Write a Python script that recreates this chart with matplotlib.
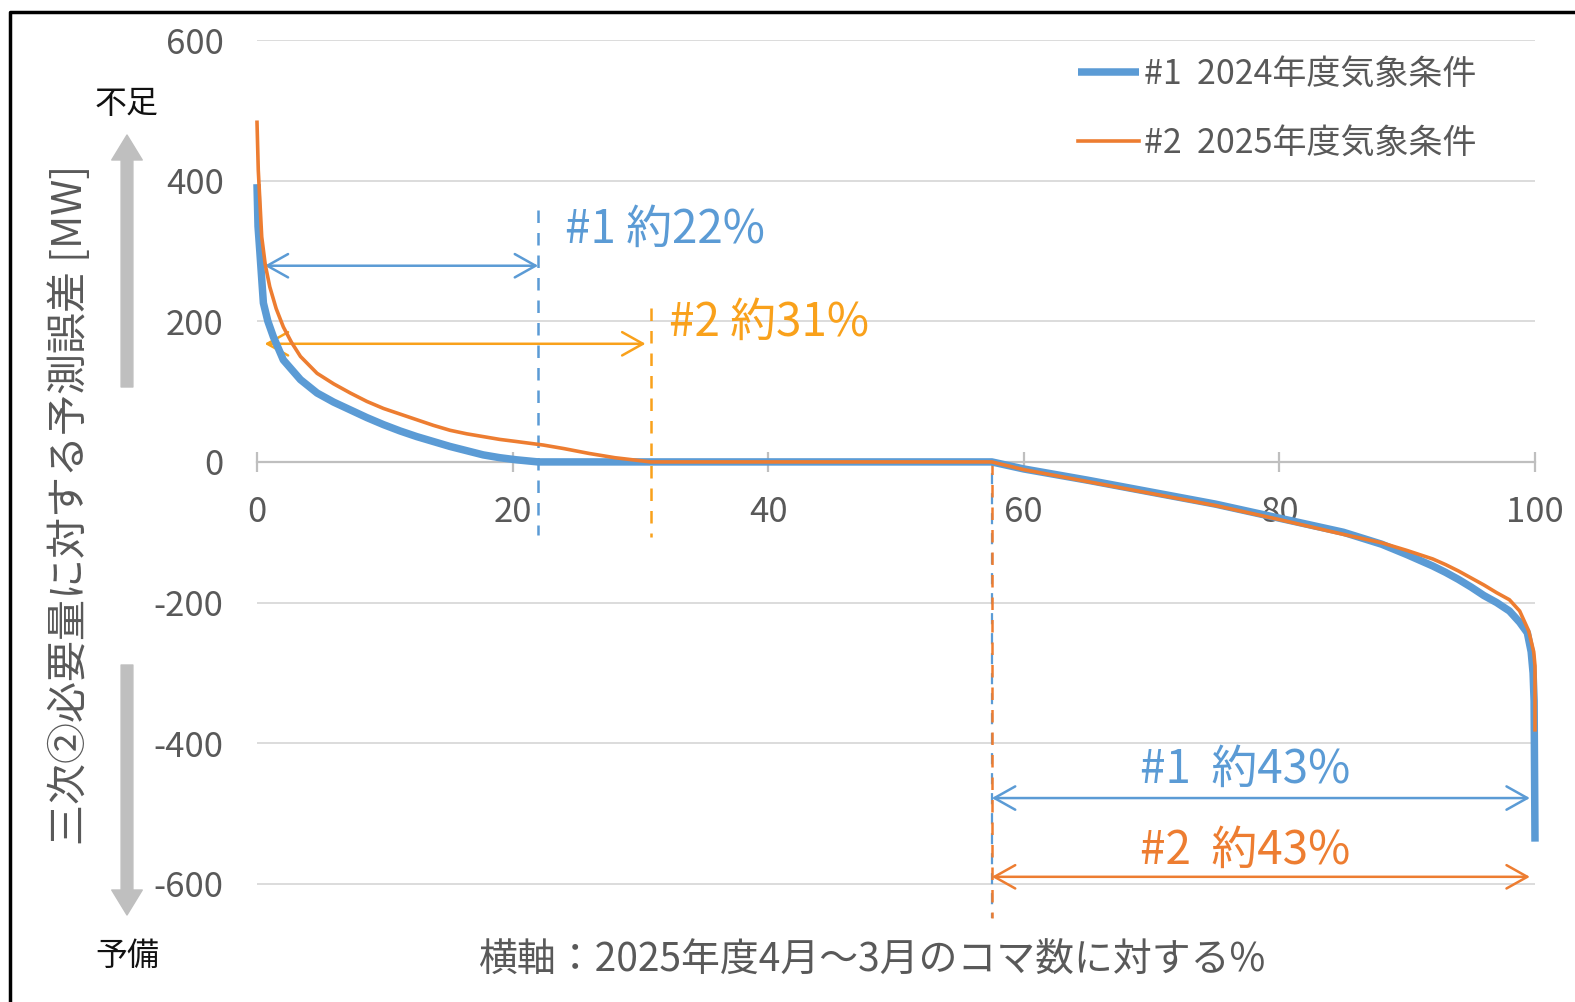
import matplotlib
matplotlib.use("Agg")
import matplotlib.pyplot as plt
from matplotlib.lines import Line2D
from matplotlib.patches import FancyArrowPatch

plt.rcParams['font.family'] = ['Noto Sans CJK JP', 'DejaVu Sans']
plt.rcParams['axes.unicode_minus'] = False

# ---------------- data ----------------
x1 = [0, 0.08, 0.23, 0.5, 0.85, 1.28, 2.06, 3.4, 4.7, 6.0, 7.3, 8.6, 9.9, 11.2, 12.5, 13.8,
      15.1, 16.4, 17.7, 19.0, 20.3, 22.0, 57.5, 60, 65, 70, 75, 80, 85, 88, 90, 92, 93, 94,
      95, 96, 97, 98, 98.8, 99.4, 99.7, 99.85, 99.93, 100]
y1 = [395, 335, 297, 226, 200, 178, 145, 117, 98, 85, 74, 63, 53, 44, 36, 29,
      22, 16, 10, 6, 3, 0, 0, -10, -26, -43, -60, -80, -100, -117, -132, -148, -157, -167,
      -178, -190, -200, -212, -228, -243, -270, -300, -340, -540]

x2 = [0, 0.1, 0.37, 0.65, 1.0, 1.5, 2.06, 2.7, 3.4, 4.7, 6.0, 7.3, 8.6, 9.9, 11.2, 12.5, 13.8,
      15.1, 16.4, 17.7, 19.0, 20.3, 22.4, 24.0, 26.0, 28.0, 30.8, 57.5, 60, 65, 70, 75, 80,
      85, 88, 90, 92, 93, 94, 95, 96, 97, 98, 98.8, 99.5, 99.9, 100, 100]
y2 = [483, 415, 320, 280, 249, 218, 192, 170, 150, 126, 111, 98, 86, 76, 68, 60, 52,
      45, 40, 36, 32, 29, 24, 19, 12, 6, 0, 0, -11, -28, -45, -62, -82,
      -103, -115, -126, -138, -146, -155, -165, -175, -186, -196, -212, -240, -270, -290, -381]

series_labels = ['#1  2024年度気象条件', '#2  2025年度気象条件']
xticks = [0, 20, 40, 60, 80, 100]
yticks = [-600, -400, -200, 0, 200, 400, 600]

# annotation values
cut1 = 22.0      # #1 zero crossing (%)
cut2 = 30.8      # #2 zero crossing (%)
neg_start = 57.5 # start of negative region (%)
ann_texts = ['#1 約22%', '#2 約31%', '#1  約43%', '#2  約43%']

BLUE = '#5B9BD5'
ORANGE = '#ED7D31'
YORANGE = '#F9A11B'
GRAY = '#595959'

W, H = 1575, 1002
fig = plt.figure(figsize=(W / 100, H / 100), dpi=100)
ax = fig.add_axes([257 / W, 1 - 919 / H, 1278 / W, (919 - 40) / H])

ax.set_xlim(0, 100)
ax.set_ylim(-650, 600)

# grid
ax.set_yticks(yticks)
ax.yaxis.grid(True, color='#D9D9D9', lw=1.3, zorder=0)
ax.xaxis.grid(False)
ax.set_axisbelow(True)

for s in ['left', 'right', 'top']:
    ax.spines[s].set_visible(False)
ax.spines['bottom'].set_position(('data', 0))
ax.spines['bottom'].set_color('#BFBFBF')
ax.spines['bottom'].set_linewidth(1.6)
ax.spines['bottom'].set_zorder(1)

ax.set_xticks(xticks)
ax.tick_params(axis='x', direction='inout', length=15, width=1.6, color='#BFBFBF',
               labelsize=25, labelcolor=GRAY, pad=16)
ax.tick_params(axis='y', length=0, labelsize=25, labelcolor=GRAY, pad=24)

# curves
ax.plot(x1, y1, color=BLUE, lw=5.4, zorder=4, clip_on=False, solid_capstyle='butt',
        label=series_labels[0])
ax.plot(x2, y2, color=ORANGE, lw=2.6, zorder=5, clip_on=False, label=series_labels[1])

# dashed verticals
ax.plot([cut1, cut1], [358, -104], color=BLUE, lw=1.8, ls=(0, (5, 4)), zorder=3)
ax.plot([cut2, cut2], [219, -107], color=YORANGE, lw=1.8, ls=(0, (5, 4)), zorder=3)
ax.plot([neg_start, neg_start], [0, -648], color=BLUE, lw=1.6, ls=(4, (5, 4)), zorder=3,
        clip_on=False)
ax.plot([neg_start, neg_start], [0, -648], color=ORANGE, lw=1.8, ls=(0, (5, 4)), zorder=3,
        clip_on=False)

def darrow(x0, x1_, y, color):
    ax.annotate('', xy=(x1_, y), xytext=(x0, y),
                arrowprops=dict(arrowstyle='<->,head_length=0.75,head_width=0.42',
                                color=color, lw=1.8, shrinkA=0, shrinkB=0,
                                mutation_scale=20), zorder=2)

darrow(0.6, cut1, 279, BLUE)
darrow(0.6, 30.4, 168, YORANGE)
darrow(neg_start, 99.6, -478, BLUE)
darrow(neg_start, 99.6, -590, ORANGE)

ax.text(24.1, 330, ann_texts[0], color=BLUE, fontsize=33, ha='left', va='center')
ax.text(32.2, 198, ann_texts[1], color=YORANGE, fontsize=33, ha='left', va='center')
ax.text(77.3, -437, ann_texts[2], color=BLUE, fontsize=33, ha='center', va='center')
ax.text(77.3, -552, ann_texts[3], color=ORANGE, fontsize=33, ha='center', va='center')

# legend
leg = ax.legend(loc='upper right', bbox_to_anchor=(1477 / W, 1 - 57 / H),
                bbox_transform=fig.transFigure, frameon=False, fontsize=24.5,
                handlelength=1.8, handletextpad=0.15, labelspacing=1.0, borderpad=0,
                borderaxespad=0)
for t in leg.get_texts():
    t.set_color(GRAY)

# axis labels
fig.text(70 / W, 1 - 505 / H, '三次②必要量に対する予測誤差 [MW]', rotation=90,
         ha='center', va='center', fontsize=29.5, color=GRAY)
fig.text(873 / W, 1 - 961 / H, '横軸：2025年度4月～3月のコマ数に対する%',
         ha='center', va='center', fontsize=28, color=GRAY)
fig.text(127 / W, 1 - 104 / H, '不足', ha='center', va='center', fontsize=23, color='#111111')
fig.text(127 / W, 1 - 956 / H, '予備', ha='center', va='center', fontsize=23, color='#111111')

# gray direction arrows
def garrow(y_from, y_to):
    fig.add_artist(FancyArrowPatch(
        (127, H - y_from), (127, H - y_to), transform=None,
        arrowstyle='simple,head_length=18,head_width=22,tail_width=8.5',
        mutation_scale=1, color='#BFBFBF', shrinkA=0, shrinkB=0))

garrow(387, 135)
garrow(665, 915)

# frame of the slide
fig.add_artist(Line2D([10 / W, 10 / W, 1.0], [0.0, 1 - 12 / H, 1 - 12 / H],
                      transform=fig.transFigure, color='black', lw=2.5))

fig.savefig('out.png', dpi=100)
